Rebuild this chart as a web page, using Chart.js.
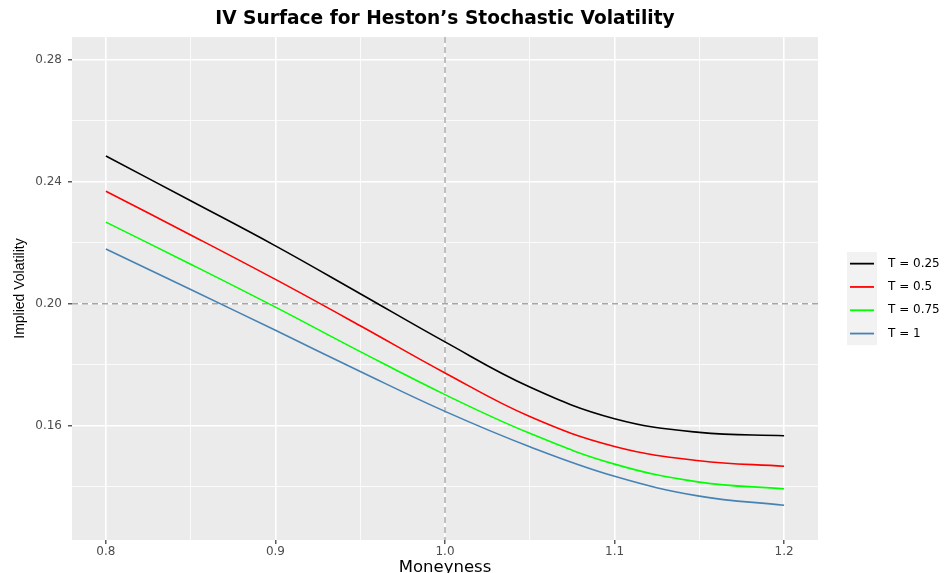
<!DOCTYPE html>
<html>
<head>
<meta charset="utf-8">
<script src="https://cdn.jsdelivr.net/npm/chart.js@4"></script>
<style>
  html, body { margin: 0; padding: 0; background: #fff; overflow: hidden; }
  #wrap { width: 944px; height: 573px; overflow: hidden; }
</style>
</head>
<body>
<div id="wrap"><canvas id="ivChart" width="944" height="573"></canvas></div>
<script>
// values
const moneyness = [0.80, 0.85, 0.90, 0.95, 1.00, 1.05, 1.10, 1.15, 1.20];
const ivT025 = [0.2485, 0.2338, 0.2190, 0.2033, 0.1875, 0.1727, 0.1623, 0.1578, 0.1567];
const ivT050 = [0.2369, 0.2226, 0.2080, 0.1928, 0.1773, 0.1630, 0.1532, 0.1485, 0.1467];
const ivT075 = [0.2268, 0.2130, 0.1989, 0.1843, 0.1702, 0.1575, 0.1474, 0.1415, 0.1393];
const ivT100 = [0.2180, 0.2047, 0.1913, 0.1778, 0.1647, 0.1531, 0.1434, 0.1369, 0.1339];
const seriesLabels = ["T = 0.25", "T = 0.5", "T = 0.75", "T = 1"];
const seriesColors = ["#000000", "#ff0000", "#00ff00", "#4682b4"];

const xMajor = [0.8, 0.9, 1.0, 1.1, 1.2];
const xMinor = [0.85, 0.95, 1.05, 1.15];
const xTickLabels = ["0.8", "0.9", "1.0", "1.1", "1.2"];
const yMajor = [0.16, 0.20, 0.24, 0.28];
const yMinor = [0.14, 0.18, 0.22, 0.26];
const yTickLabels = ["0.16", "0.20", "0.24", "0.28"];
const xLimits = [0.78, 1.22];
const yLimits = [0.1225, 0.2875];
const refX = 1.0;
const refY = 0.20;

const sansFont = "'DejaVu Sans', Verdana, sans-serif";
const narrowFont = "'Liberation Sans Narrow', 'Liberation Sans', sans-serif";

function majorIndex(list, v) {
  return list.findIndex(m => Math.abs(m - v) < 1e-6);
}

function toPoints(ys) {
  return moneyness.map((x, i) => ({ x: x, y: ys[i] }));
}

const allSeries = [ivT025, ivT050, ivT075, ivT100];
const datasets = allSeries.map((ys, i) => ({
  label: seriesLabels[i],
  data: toPoints(ys),
  borderColor: seriesColors[i],
  backgroundColor: seriesColors[i],
  borderWidth: 1.6,
  pointRadius: 0,
  fill: false,
  tension: 0.4
}));

// grey panel like ggplot
const panelBg = {
  id: "panelBg",
  beforeDraw(chart) {
    const { ctx, chartArea: a } = chart;
    ctx.save();
    ctx.fillStyle = "#ebebeb";
    ctx.fillRect(a.left, a.top, a.right - a.left, a.bottom - a.top);
    ctx.restore();
  }
};

// dashed lines at moneyness 1 and vol 0.20
const refLines = {
  id: "refLines",
  beforeDatasetsDraw(chart) {
    const { ctx, chartArea: a, scales } = chart;
    const px = scales.x.getPixelForValue(refX);
    const py = scales.y.getPixelForValue(refY);
    ctx.save();
    ctx.strokeStyle = "#a6a6a6";
    ctx.lineWidth = 1.4;
    ctx.setLineDash([6, 4]);
    ctx.beginPath();
    ctx.moveTo(px, a.top);
    ctx.lineTo(px, a.bottom);
    ctx.moveTo(a.left, py);
    ctx.lineTo(a.right, py);
    ctx.stroke();
    ctx.restore();
  }
};

// legend on the right, ggplot style keys
const sideLegend = {
  id: "sideLegend",
  afterDraw(chart) {
    const { ctx } = chart;
    const keyX = 847, keyW = 30, keyTop = 252, keyH = 23.3;
    ctx.save();
    ctx.fillStyle = "#f2f2f2";
    ctx.fillRect(keyX, keyTop, keyW, keyH * chart.data.datasets.length);
    chart.data.datasets.forEach((ds, i) => {
      const cy = keyTop + keyH * i + keyH / 2;
      ctx.strokeStyle = ds.borderColor;
      ctx.lineWidth = 1.8;
      ctx.beginPath();
      ctx.moveTo(keyX + 3, cy);
      ctx.lineTo(keyX + 27, cy);
      ctx.stroke();
      ctx.fillStyle = "#000";
      ctx.font = "12px " + sansFont;
      ctx.textBaseline = "middle";
      ctx.fillText(ds.label, 888, cy);
    });
    ctx.restore();
  }
};

new Chart(document.getElementById("ivChart").getContext("2d"), {
  type: "line",
  data: { datasets: datasets },
  plugins: [panelBg, refLines, sideLegend],
  options: {
    responsive: false,
    animation: false,
    events: [],
    layout: { padding: { left: 0, right: 126, top: 0, bottom: 0 } },
    plugins: {
      legend: { display: false },
      tooltip: { enabled: false },
      title: {
        display: true,
        text: "IV Surface for Heston\u2019s Stochastic Volatility",
        color: "#000",
        fullSize: false,
        font: { family: sansFont, size: 18.6, weight: "bold" },
        padding: { top: 7.8, bottom: 7 }
      }
    },
    scales: {
      x: {
        type: "linear",
        min: xLimits[0],
        max: xLimits[1],
        afterBuildTicks(scale) {
          scale.ticks = xMajor.concat(xMinor).sort((a, b) => a - b).map(v => ({ value: v }));
        },
        afterFit(scale) { scale.height = 33; },
        border: { display: false },
        grid: {
          color: "#ffffff",
          lineWidth: c => majorIndex(xMajor, c.tick.value) >= 0 ? 1.6 : 0.8,
          tickColor: c => majorIndex(xMajor, c.tick.value) >= 0 ? "#333333" : "rgba(0,0,0,0)",
          tickLength: 4,
          tickWidth: 1.2
        },
        ticks: {
          autoSkip: false,
          maxRotation: 0,
          padding: 1,
          color: "#4d4d4d",
          font: { family: sansFont, size: 12 },
          callback: v => {
            const i = majorIndex(xMajor, v);
            return i >= 0 ? xTickLabels[i] : "";
          }
        },
        title: {
          display: true,
          text: "Moneyness",
          color: "#000",
          font: { family: sansFont, size: 16.5 },
          padding: { top: 0, bottom: -5 }
        }
      },
      y: {
        type: "linear",
        min: yLimits[0],
        max: yLimits[1],
        afterBuildTicks(scale) {
          scale.ticks = yMajor.concat(yMinor).sort((a, b) => a - b).map(v => ({ value: v }));
        },
        afterFit(scale) { scale.width = 72; },
        border: { display: false },
        grid: {
          color: "#ffffff",
          lineWidth: c => majorIndex(yMajor, c.tick.value) >= 0 ? 1.6 : 0.8,
          tickColor: c => majorIndex(yMajor, c.tick.value) >= 0 ? "#333333" : "rgba(0,0,0,0)",
          tickLength: 4,
          tickWidth: 1.2
        },
        ticks: {
          autoSkip: false,
          padding: 6,
          color: "#4d4d4d",
          font: { family: sansFont, size: 12 },
          callback: v => {
            const i = majorIndex(yMajor, v);
            return i >= 0 ? yTickLabels[i] : "";
          }
        },
        title: {
          display: true,
          text: "Implied Volatility",
          color: "#000",
          font: { family: narrowFont, size: 14 },
          padding: { top: 12, bottom: 0 }
        }
      }
    }
  }
});
</script>
</body>
</html>
